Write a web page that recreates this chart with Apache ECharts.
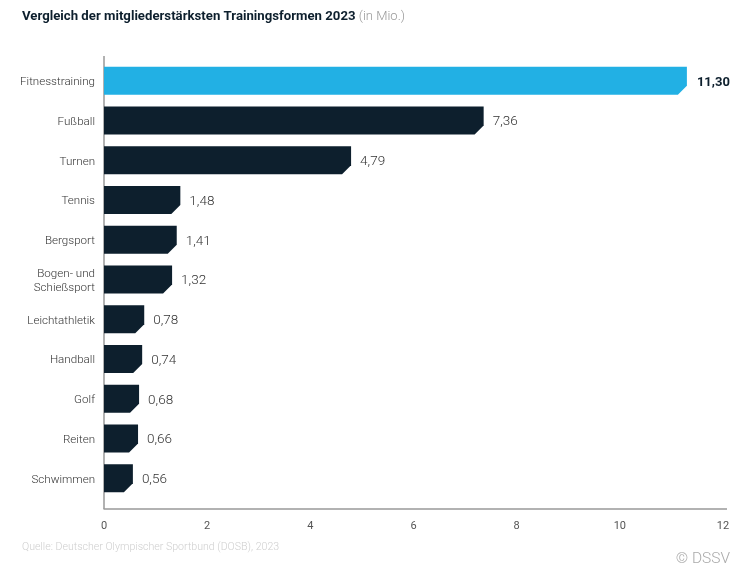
<!DOCTYPE html>
<html><head><meta charset="utf-8">
<style>html,body{margin:0;padding:0;background:#fff}#c{width:748px;height:568px}</style>
<script src="https://cdn.jsdelivr.net/npm/echarts@6/dist/echarts.min.js"></script>
</head><body><div id="c"></div>
<script>
const categories = ['Fitnesstraining','Fußball','Turnen','Tennis','Bergsport','Bogen- und\nSchießsport','Leichtathletik','Handball','Golf','Reiten','Schwimmen'];
const values = [11.30,7.36,4.79,1.48,1.41,1.32,0.78,0.74,0.68,0.66,0.56];
const xTicks = {min:0,max:12,interval:2};
const titleMain = 'Vergleich der mitgliederstärksten Trainingsformen 2023';
const titleUnit = '(in Mio.)';
const sourceText = 'Quelle: Deutscher Olympischer Sportbund (DOSB), 2023';
const creditText = '© DSSV';
const F = 'Roboto, sans-serif';
const NOTCH = 9, BAR_H = 28, DARK = '#0d1f2d', BLUE = '#22b0e4', AXIS = '#999999';
const G = {left:104, top:61, width:619, height:437};
const chart = echarts.init(document.getElementById('c'), null, {renderer:'canvas'});
chart.setOption({
  animation:false,
  backgroundColor:'#fff',
  title:{left:17,top:5,text:'{a|'+titleMain+' }{b|'+titleUnit+'}',
    textStyle:{rich:{
      a:{fontFamily:F,fontSize:13.2,fontWeight:700,color:'#0d1f2d'},
      b:{fontFamily:F,fontSize:13,fontWeight:300,color:'#999'}
    }}},
  grid:G,
  xAxis:{type:'value',min:xTicks.min,max:xTicks.max,interval:xTicks.interval,
    axisLine:{show:false},axisTick:{show:false},splitLine:{show:false},
    axisLabel:{fontFamily:F,fontSize:11,color:'#555',margin:23}},
  yAxis:{type:'category',inverse:true,data:categories,
    axisLine:{show:false},axisTick:{show:false},axisLabel:{show:false}},
  series:[{
    type:'custom',coordinateSystem:'cartesian2d',
    clip:false,
    encode:{x:0,y:1},
    data:values.map((v,i)=>[v,i]),
    renderItem(params,api){
      const v=api.value(0), i=api.value(1);
      const end=api.coord([v,i]), start=api.coord([0,i]);
      const x0=start[0], x1=end[0], t=end[1]-BAR_H/2, b=end[1]+BAR_H/2;
      const hi=params.dataIndex===0;
      return {type:'group',children:[
        {type:'polygon',shape:{points:[[x0,t],[x1,t],[x1,b-NOTCH],[x1-NOTCH,b],[x0,b]]},
         style:{fill:hi?BLUE:DARK}},
        {type:'text',x:x1+(hi?10:9),y:end[1]+1.5,style:{
          text:v.toFixed(2).replace('.',','),
          fontFamily:F,fontSize:hi?13:13.5,fontWeight:hi?700:300,
          fill:hi?'#0d1f2d':'#333',align:'left',verticalAlign:'middle'}},
        {type:'text',x:x0-9,y:end[1]+1.5,style:{
          text:categories[params.dataIndex],
          fontFamily:F,fontSize:11.6,fontWeight:300,lineHeight:14,
          fill:'#333',align:'right',verticalAlign:'middle'}}
      ]};
    }
  }],
  graphic:[
    {type:'line',shape:{x1:104,y1:56,x2:104,y2:509},style:{stroke:AXIS,lineWidth:1.5}},
    {type:'line',shape:{x1:103.5,y1:509,x2:727,y2:509},style:{stroke:AXIS,lineWidth:1.5}},
    {type:'text',left:22,top:542,style:{text:sourceText,fontFamily:F,fontSize:10.6,fontWeight:300,fill:'#cfcfcf'}},
    {type:'text',right:18,top:551,style:{text:creditText,fontFamily:F,fontSize:15.5,fontWeight:300,fill:'#aaaaaa',align:'right'}}
  ]
});
</script></body></html>
